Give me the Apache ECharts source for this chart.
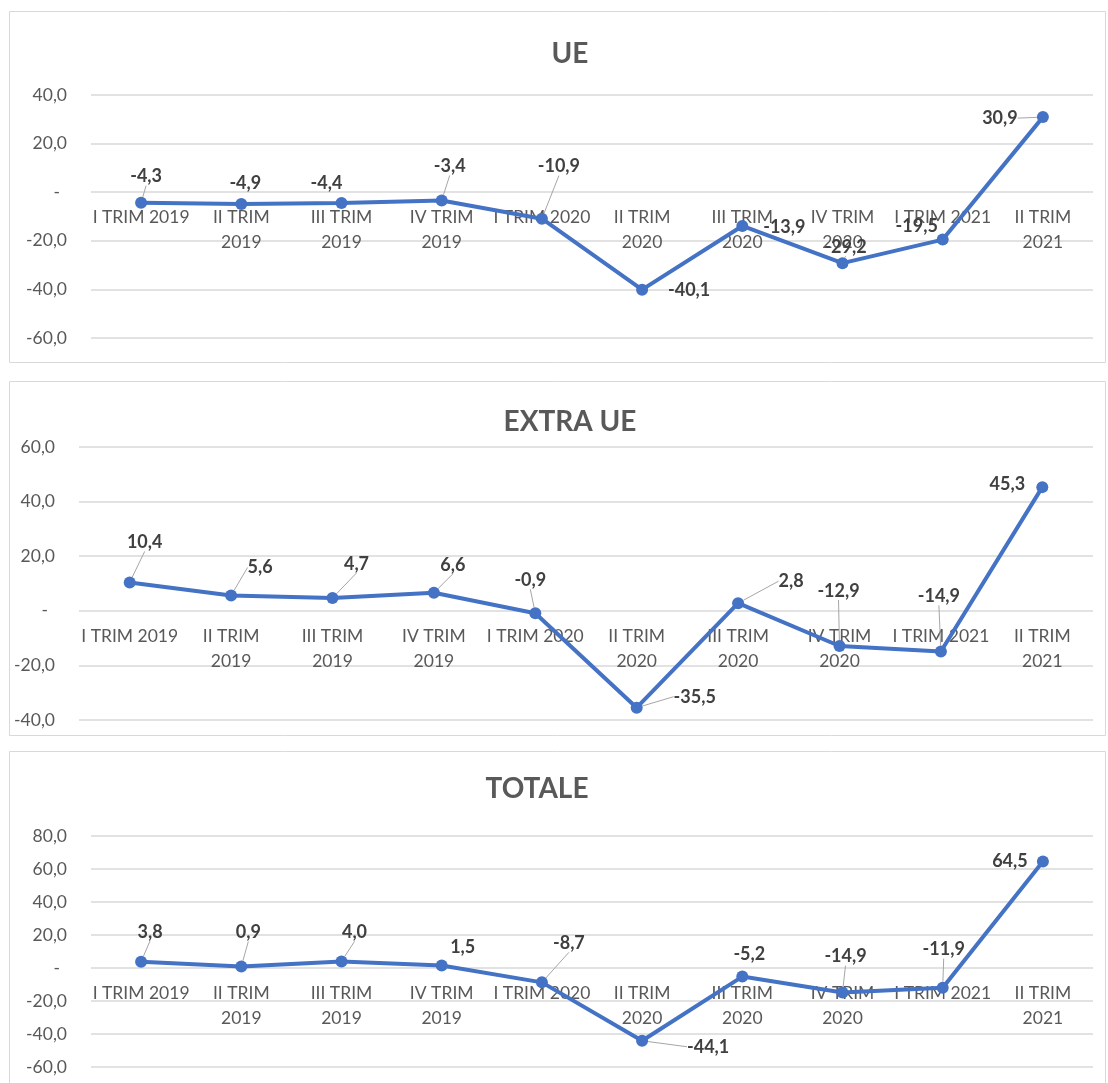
<!DOCTYPE html>
<html>
<head>
<meta charset="utf-8">
<script src="https://cdn.jsdelivr.net/npm/echarts@6/dist/echarts.min.js"></script>
<style>
html,body{margin:0;padding:0;background:#fff;}
#chart{width:1108px;height:1083px;}
</style>
</head>
<body>
<div id="chart"></div>
<script>
// ---- data ----
const categories = ['I TRIM 2019','II TRIM\n2019','III TRIM\n2019','IV TRIM\n2019','I TRIM 2020','II TRIM\n2020','III TRIM\n2020','IV TRIM\n2020','I TRIM 2021','II TRIM\n2021'];
const titles = ['UE', 'EXTRA UE', 'TOTALE'];
const ueValues = [-4.3, -4.9, -4.4, -3.4, -10.9, -40.1, -13.9, -29.2, -19.5, 30.9];
const extraUeValues = [10.4, 5.6, 4.7, 6.6, -0.9, -35.5, 2.8, -12.9, -14.9, 45.3];
const totaleValues = [3.8, 0.9, 4.0, 1.5, -8.7, -44.1, -5.2, -14.9, -11.9, 64.5];
const yMins = [-60, -40, -60];
const yMaxs = [40, 60, 80];
const yInterval = 20;

// ---- label placement (layout only) ----
const labelOffsets = [
  [[5,-26],[4,-21],[-15,-20],[8,-34],[17,-52],[47,1],[42,1],[3,-16],[-26,-13],[-43,1]],
  [[15,-40],[29,-28],[24,-34],[19,-28],[-5,-33],[58,-11],[53,-22],[-1,-55],[-2,-55],[-35,-3]],
  [[9,-30],[7,-34],[13,-29],[21,-18],[27,-39],[66,6],[7,-22],[3,-36],[1,-38],[-33,0]]
];
const leaders = [
  [1,0,0,1,1,0,0,1,0,1],
  [1,1,1,1,1,1,1,1,1,0],
  [1,1,1,0,1,1,0,1,1,0]
];

const FONT = 'Lato, "Open Sans", sans-serif';
const TEXT = '#595959';
const GRID_COLOR = '#d9d9d9';
const LINE_COLOR = '#4472C4';

const series = [ueValues, extraUeValues, totaleValues];
const grids = [
  {left: 91, right: 15, top: 95, height: 243},
  {left: 79, right: 15, top: 447, height: 273},
  {left: 91, right: 15, top: 836, height: 231}
];
const titlePos = [{x: 565, y: 35}, {x: 565, y: 403}, {x: 532, y: 770}];
const panels = [{y: 11, h: 351}, {y: 381, h: 354}, {y: 751, h: 345}];

function fmt(v) {
  if (v === 0) return '{z|-}';
  return '{n|' + v.toFixed(1).replace('.', ',') + '}';
}

// offset that puts the category axis on the zero line of its value axis
function zeroOffset(i) {
  return -grids[i].height * (0 - yMins[i]) / (yMaxs[i] - yMins[i]);
}

const option = {
  backgroundColor: '#fff',
  animation: false,
  textStyle: {fontFamily: FONT},
  graphic: panels.map(p => ({
    type: 'rect', z: -10, silent: true,
    shape: {x: 9.5, y: p.y + 0.5, width: 1096, height: p.h},
    style: {fill: '#fff', stroke: GRID_COLOR, lineWidth: 1}
  })),
  title: titles.map((t, i) => ({
    text: t,
    left: titlePos[i].x,
    top: titlePos[i].y,
    textAlign: 'center',
    textStyle: {fontFamily: FONT, fontSize: 28, fontWeight: 'bold', color: TEXT}
  })),
  grid: grids.map(g => Object.assign({containLabel: false, outerBoundsMode: 'none'}, g)),
  xAxis: grids.map((g, i) => ({
    type: 'category',
    gridIndex: i,
    data: categories,
    boundaryGap: true,
    position: 'bottom',
    offset: zeroOffset(i),
    axisLine: {show: false, onZero: false},
    axisTick: {show: false},
    axisLabel: {
      interval: 0, margin: 13, color: TEXT, fontFamily: FONT, fontSize: 17.5, lineHeight: 25
    },
    splitLine: {show: false}
  })),
  yAxis: grids.map((g, i) => ({
    type: 'value',
    gridIndex: i,
    min: yMins[i], max: yMaxs[i], interval: yInterval,
    axisLine: {show: false},
    axisTick: {show: false},
    axisLabel: {
      margin: 24, color: TEXT, fontFamily: FONT, fontSize: 17.5, formatter: fmt,
      rich: {
        n: {color: TEXT, fontFamily: FONT, fontSize: 17.5, width: 42, align: 'right'},
        z: {color: TEXT, fontFamily: FONT, fontSize: 17.5, width: 42, align: 'right', padding: [0, 7, 0, 0]}
      }
    },
    splitLine: {show: true, lineStyle: {color: GRID_COLOR, width: 1.5}}
  })),
  series: series.map((vals, si) => ({
    type: 'line',
    xAxisIndex: si, yAxisIndex: si,
    data: vals.map((v, di) => ({
      value: v,
      labelLine: {show: !!leaders[si][di]}
    })),
    symbol: 'circle',
    symbolSize: 12,
    itemStyle: {color: LINE_COLOR},
    lineStyle: {color: LINE_COLOR, width: 4},
    label: {
      show: true,
      position: 'inside',
      formatter: p => p.value.toFixed(1).replace('.', ','),
      fontFamily: FONT, fontSize: 18, fontWeight: 'bold', color: '#404040'
    },
    labelLine: {show: true, lineStyle: {color: '#a6a6a6', width: 1}},
    labelLayout: p => ({dx: labelOffsets[si][p.dataIndex][0], dy: labelOffsets[si][p.dataIndex][1]})
  }))
};

const chart = echarts.init(document.getElementById('chart'), null, {renderer: 'canvas'});
chart.setOption(option);
</script>
</body>
</html>
